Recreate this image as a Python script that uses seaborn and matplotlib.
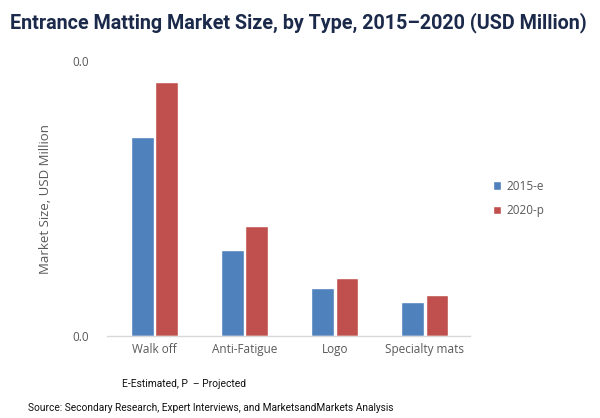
import matplotlib
matplotlib.use("Agg")
import matplotlib.pyplot as plt
import seaborn as sns
import pandas as pd

categories = ["Walk off", "Anti-Fatigue", "Logo", "Specialty mats"]
series_names = ["2015-e", "2020-p"]
values_2015 = [0.0290, 0.0125, 0.0070, 0.0050]
values_2020 = [0.0370, 0.0160, 0.0084, 0.0060]

df = pd.DataFrame({
    "Type": categories * 2,
    "Year": [series_names[0]] * 4 + [series_names[1]] * 4,
    "Value": values_2015 + values_2020,
})

sns.set_theme(style="white")
plt.rcParams['font.family'] = ['Open Sans', 'DejaVu Sans']

fig = plt.figure(figsize=(6, 4.18), dpi=100)
ax = fig.add_axes([0.178, 0.196, 0.605, 0.658])

sns.barplot(data=df, x="Type", y="Value", hue="Year", order=categories,
            hue_order=series_names, palette=["#4F81BD", "#C0504D"],
            saturation=1, width=0.54, gap=0.07, ax=ax, legend=True)

ax.set_ylim(0, 0.04)
ax.set_yticks([0, 0.04])
ax.yaxis.set_major_formatter(matplotlib.ticker.FormatStrFormatter("%.1f"))
ax.set_xlim(-0.53, 3.5)
for s in ["top", "right", "left"]:
    ax.spines[s].set_visible(False)
ax.spines["bottom"].set_color("#D9D9D9")
ax.spines["bottom"].set_linewidth(1)
ax.tick_params(axis="both", length=0, colors="#595959", labelsize=8.5)
ax.tick_params(axis="y", pad=13)
ax.tick_params(axis="x", pad=5)
ax.set_xlabel("")
ax.set_ylabel("Market Size, USD Million", color="#595959", fontsize=9.5)
ax.yaxis.set_label_coords(-0.15, 0.5)

leg = ax.legend(loc="center left", bbox_to_anchor=(1.035, 0.5), frameon=False,
                fontsize=8.5, handlelength=0.7, handleheight=0.7,
                labelspacing=1.0, handletextpad=0.4)
for t in leg.get_texts():
    t.set_color("#595959")

fig.text(0.017, 0.945, "Entrance Matting Market Size, by Type, 2015\u20132020 (USD Million)",
         fontsize=14.2, fontweight="bold", color="#1B2A4A", family="Roboto",
         va="center")
fig.text(0.203, 0.081, "E-Estimated, P  \u2013 Projected", fontsize=7.4,
         color="#111111", family="Roboto", va="center")
fig.text(0.046, 0.024, "Source: Secondary Research, Expert Interviews, and MarketsandMarkets Analysis",
         fontsize=7.3, color="#111111", family="Roboto", va="center")

fig.savefig("out.png", dpi=100)
